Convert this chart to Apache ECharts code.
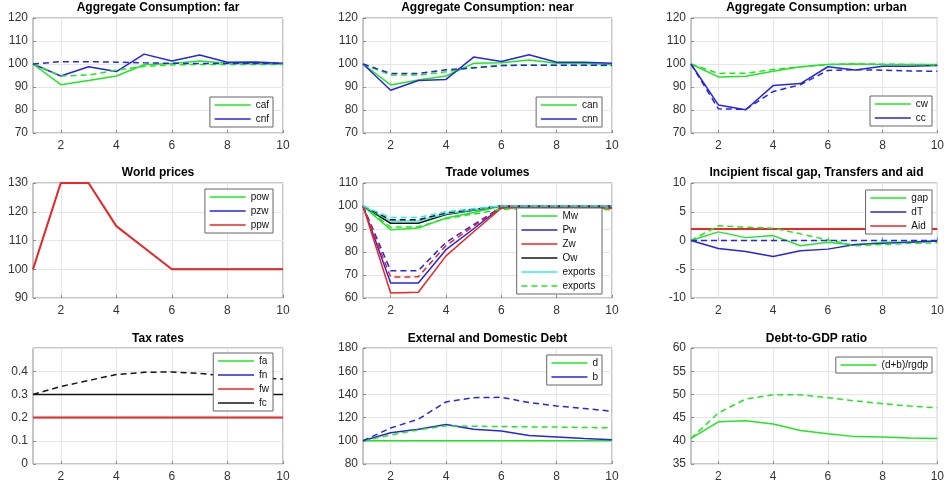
<!DOCTYPE html>
<html>
<head>
<meta charset="utf-8">
<script src="https://cdn.jsdelivr.net/npm/echarts@6/dist/echarts.min.js"></script>
<style>
  html, body { margin: 0; padding: 0; background: #fff; }
  #chart { width: 947px; height: 487px; }
</style>
</head>
<body>
<div id="chart"></div>
<script>
// Horizon (periods 1..10)
const steps = ['1', '2', '3', '4', '5', '6', '7', '8', '9', '10'];

// Aggregate consumption: far
const cafSolid = [100, 91, 92.8, 94.8, 99.7, 100.2, 101.3, 100.3, 100.2, 100];
const cnfSolid = [100, 94.8, 98.8, 96.7, 104.3, 101.3, 103.9, 100.8, 100.9, 100.3];
const cafDash  = [100, 94.8, 95.2, 97.3, 99, 99.6, 99.8, 99.8, 99.8, 99.8];
const cnfDash  = [100, 101, 101, 100.8, 100.5, 100.3, 100.2, 100.2, 100.2, 100.2];

// Aggregate consumption: near
const canSolid = [100, 90.9, 93, 94.8, 100.3, 100.5, 101.7, 100.3, 100.2, 99.8];
const cnnSolid = [100, 88.6, 92.8, 93.3, 103, 101.1, 104, 100.8, 100.8, 100.3];
const canDash  = [100, 95.2, 95.2, 96.6, 98.5, 99.4, 99.5, 99.5, 99.5, 99.3];
const cnnDash  = [100, 95.9, 95.9, 97.5, 98.3, 99.3, 99.5, 99.5, 99.5, 99.5];

// Aggregate consumption: urban
const cwSolid = [100, 94.4, 94.7, 96.8, 98.8, 99.8, 100, 99.8, 99.8, 99.8];
const ccSolid = [100, 82.2, 80.1, 90.6, 91.5, 98.8, 97.4, 99, 99, 99.4];
const cwDash  = [100, 95.9, 96, 97.6, 98.8, 99.8, 100.1, 99.9, 99.8, 99.6];
const ccDash  = [100, 80.5, 80.3, 88, 91, 97.2, 97.5, 97.3, 97, 96.8];

// World prices
const powPath = [100, 130, 130, 115, 107.5, 100, 100, 100, 100, 100];
const pzwPath = [100, 130, 130, 115, 107.5, 100, 100, 100, 100, 100];
const ppwPath = [100, 130, 130, 115, 107.5, 100, 100, 100, 100, 100];

// Trade volumes
const mwSolid  = [100, 89.7, 90.4, 94.8, 97.2, 100, 100, 100, 100, 100];
const pwSolid  = [100, 66.5, 66.5, 81, 90.1, 99.5, 100, 100, 100, 100];
const zwSolid  = [100, 62.2, 62.5, 78.3, 88.8, 99, 99.5, 99.5, 99.5, 99];
const owSolid  = [100, 92.5, 92.5, 96.3, 98.2, 100, 100, 100, 100, 100];
const expSolid = [100, 93.5, 93.5, 96.6, 98.4, 100, 100, 100, 100, 100];
const mwDash   = [100, 90.8, 91, 94.5, 96.5, 98.6, 98.8, 98.8, 98.8, 98.3];
const pwDash   = [100, 71.9, 71.9, 84.2, 91.9, 99.5, 99.6, 99.6, 99.6, 99.5];
const zwDash   = [100, 69.1, 69.2, 82.8, 91.2, 99.3, 99.3, 99.3, 99.3, 99];
const owDash   = [100, 94, 94, 97, 98.6, 100, 100, 100, 100, 100];
const expDash  = [100, 95, 95, 97.5, 98.8, 100, 100, 100, 100, 100];

// Incipient fiscal gap, transfers and aid
const gapSolid = [0, 1.5, 0.5, 0.85, -0.9, -0.3, -0.8, -0.3, -0.3, -0.1];
const dtSolid  = [0, -1.4, -1.9, -2.8, -1.8, -1.5, -0.7, -0.5, -0.3, -0.1];
const aidSolid = [2, 2, 2, 2, 2, 2, 2, 2, 2, 2];
const gapDash  = [0, 2.55, 2.3, 2.15, 1.15, 0.1, -0.9, -0.7, -0.5, -0.4];
const dtDash   = [0, 0, 0, 0, 0, 0, 0, 0, 0, 0];
const aidDash  = [2, 2, 2, 2, 2, 2, 2, 2, 2, 2];

// Tax rates
const faRate = [0.2, 0.2, 0.2, 0.2, 0.2, 0.2, 0.2, 0.2, 0.2, 0.2];
const fnRate = [0.2, 0.2, 0.2, 0.2, 0.2, 0.2, 0.2, 0.2, 0.2, 0.2];
const fwRate = [0.2, 0.2, 0.2, 0.2, 0.2, 0.2, 0.2, 0.2, 0.2, 0.2];
const fcRate = [0.3, 0.3, 0.3, 0.3, 0.3, 0.3, 0.3, 0.3, 0.3, 0.3];
const fcDash = [0.3, 0.334, 0.36, 0.386, 0.395, 0.397, 0.39, 0.38, 0.372, 0.366];

// External and domestic debt
const dSolid = [100, 100, 100, 100, 100, 100, 100, 100, 100, 100];
const bSolid = [100, 107, 110, 114, 110, 108.5, 104.5, 103.3, 102, 101];
const dDash  = [100, 105, 109.4, 112.9, 112.5, 112.3, 112, 111.8, 111.5, 111.2];
const bDash  = [100, 111, 118.6, 133.5, 137.2, 137.5, 133, 130, 127.8, 125.5];

// Debt-to-GDP ratio
const ratioSolid = [40.5, 44.1, 44.3, 43.6, 42.2, 41.5, 40.9, 40.8, 40.6, 40.5];
const ratioDash  = [40.5, 46, 49, 49.9, 49.9, 49.3, 48.6, 48, 47.5, 47.1];

// MATLAB-like line colours
const G = '#22e622', B = '#2626de', R = '#ea2626', K = '#161616', C = '#3ae8e8';
const FONT = '"Liberation Sans", Arial, Helvetica, sans-serif';

const W = 947;
const cols = [[33, 250], [363, 249], [691, 251]];
const rows = [[18, 115, 2], [183, 115, 167], [348, 116, 333]];

// "under" marks a line that sits beneath an identical one drawn on top of it
const panels = [
  { title: 'Aggregate Consumption: far', c: 0, r: 0, y: [70, 120, 10], leg: [273, 97],
    series: [
      { name: 'caf', data: cafSolid, color: G, leg: true },
      { name: 'cnf', data: cnfSolid, color: B, leg: true },
      { name: 'caf_b', data: cafDash, color: G, dash: true },
      { name: 'cnf_b', data: cnfDash, color: B, dash: true }
    ] },
  { title: 'Aggregate Consumption: near', c: 1, r: 0, y: [70, 120, 10], leg: [602, 97],
    series: [
      { name: 'can', data: canSolid, color: G, leg: true },
      { name: 'cnn', data: cnnSolid, color: B, leg: true },
      { name: 'can_b', data: canDash, color: G, dash: true },
      { name: 'cnn_b', data: cnnDash, color: B, dash: true }
    ] },
  { title: 'Aggregate Consumption: urban', c: 2, r: 0, y: [70, 120, 10], leg: [932, 96],
    series: [
      { name: 'cw', data: cwSolid, color: G, leg: true },
      { name: 'cc', data: ccSolid, color: B, leg: true },
      { name: 'cw_b', data: cwDash, color: G, dash: true },
      { name: 'cc_b', data: ccDash, color: B, dash: true }
    ] },
  { title: 'World prices', c: 0, r: 1, y: [90, 130, 10], leg: [273, 189],
    series: [
      { name: 'pow', data: powPath, color: G, leg: true, under: true },
      { name: 'pzw', data: pzwPath, color: B, leg: true, under: true },
      { name: 'ppw', data: ppwPath, color: R, leg: true, top: true }
    ] },
  { title: 'Trade volumes', c: 1, r: 1, y: [60, 110, 10], leg: [602, 208],
    series: [
      { name: 'Mw', data: mwSolid, color: G, leg: true },
      { name: 'Pw', data: pwSolid, color: B, leg: true },
      { name: 'Zw', data: zwSolid, color: R, leg: true },
      { name: 'Ow', data: owSolid, color: K, leg: true },
      { name: 'exports', data: expSolid, color: C, leg: true },
      { name: 'exports ', data: mwDash, color: G, dash: true, leg: true },
      { name: 'Pw_b', data: pwDash, color: B, dash: true },
      { name: 'Zw_b', data: zwDash, color: R, dash: true },
      { name: 'Ow_b', data: owDash, color: K, dash: true },
      { name: 'exports_b', data: expDash, color: C, dash: true }
    ] },
  { title: 'Incipient fiscal gap, Transfers and aid', c: 2, r: 1, y: [-10, 10, 5], leg: [932, 190],
    series: [
      { name: 'gap', data: gapSolid, color: G, leg: true },
      { name: 'dT', data: dtSolid, color: B, leg: true },
      { name: 'Aid_b', data: aidDash, color: R, dash: true, under: true },
      { name: 'Aid', data: aidSolid, color: R, leg: true, top: true },
      { name: 'gap_b', data: gapDash, color: G, dash: true },
      { name: 'dT_b', data: dtDash, color: B, dash: true }
    ] },
  { title: 'Tax rates', c: 0, r: 2, y: [0, 0.5, 0.1], leg: [273, 353], hideMax: true,
    series: [
      { name: 'fa', data: faRate, color: G, leg: true, under: true },
      { name: 'fn', data: fnRate, color: B, leg: true, under: true },
      { name: 'fw', data: fwRate, color: R, leg: true, top: true },
      { name: 'fc', data: fcRate, color: K, leg: true },
      { name: 'fc_b', data: fcDash, color: K, dash: true }
    ] },
  { title: 'External and Domestic Debt', c: 1, r: 2, y: [80, 180, 20], leg: [602, 355],
    series: [
      { name: 'd', data: dSolid, color: G, leg: true },
      { name: 'b', data: bSolid, color: B, leg: true },
      { name: 'd_b', data: dDash, color: G, dash: true },
      { name: 'b_b', data: bDash, color: B, dash: true }
    ] },
  { title: 'Debt-to-GDP ratio', c: 2, r: 2, y: [35, 60, 5], leg: [932, 357],
    series: [
      { name: '(d+b)/rgdp', data: ratioSolid, color: G, leg: true },
      { name: 'ratio_b', data: ratioDash, color: G, dash: true }
    ] }
];

const option = {
  animation: false,
  backgroundColor: '#fff',
  textStyle: { fontFamily: FONT },
  title: [], grid: [], xAxis: [], yAxis: [], legend: [], series: []
};

const evenOnly = (i) => i % 2 === 1;

panels.forEach((p, k) => {
  const [left, width] = cols[p.c];
  const [top, height, titleTop] = rows[p.r];
  option.title.push({
    text: p.title, left: left + width / 2, top: titleTop, textAlign: 'center', padding: 0,
    textStyle: { fontSize: 12, fontWeight: 'bold', color: '#000', fontFamily: FONT }
  });
  option.grid.push({
    left, top, width, height, show: true, backgroundColor: '#fff',
    borderColor: '#8c8c8c', borderWidth: 1, containLabel: false
  });
  option.xAxis.push({
    type: 'category', gridIndex: k, data: steps, boundaryGap: false,
    axisLine: { show: false },
    axisTick: { show: true, inside: true, length: 3, interval: evenOnly, lineStyle: { color: '#8c8c8c' } },
    axisLabel: { interval: evenOnly, margin: 7, fontSize: 12, color: '#333', fontFamily: FONT },
    splitLine: { show: true, interval: evenOnly, lineStyle: { color: '#e6e6e6', width: 1 } }
  });
  option.yAxis.push({
    type: 'value', gridIndex: k, min: p.y[0], max: p.y[1], interval: p.y[2],
    axisLine: { show: false },
    axisTick: { show: true, inside: true, length: 3, lineStyle: { color: '#8c8c8c' } },
    axisLabel: { margin: 5, fontSize: 12, color: '#333', fontFamily: FONT,
                 showMaxLabel: !p.hideMax },
    splitLine: { show: true, lineStyle: { color: '#e6e6e6', width: 1 } }
  });
  option.legend.push({
    orient: 'vertical', right: W - p.leg[0], top: p.leg[1],
    padding: [2, 4, 2, 4], itemWidth: 36, itemHeight: 8, itemGap: 2,
    backgroundColor: '#fff', borderColor: '#666', borderWidth: 1, borderRadius: 0,
    selectedMode: false, z: 10,
    itemStyle: { opacity: 0 },
    lineStyle: { width: 1.5 },
    textStyle: { fontSize: 10, color: '#111', fontFamily: FONT, lineHeight: 12 },
    data: p.series.filter(s => s.leg).map(s => s.name)
  });
  p.series.forEach(s => {
    option.series.push({
      type: 'line', name: s.name, xAxisIndex: k, yAxisIndex: k, data: s.data,
      symbol: 'none', showSymbol: false, silent: true,
      color: s.color,
      lineStyle: {
        color: s.color,
        width: s.under ? 1 : (s.top ? 2 : 1.5),
        type: s.dash ? [6, 4] : 'solid'
      }
    });
  });
});

const chart = echarts.init(document.getElementById('chart'), null, { renderer: 'canvas' });
chart.setOption(option);
</script>
</body>
</html>
